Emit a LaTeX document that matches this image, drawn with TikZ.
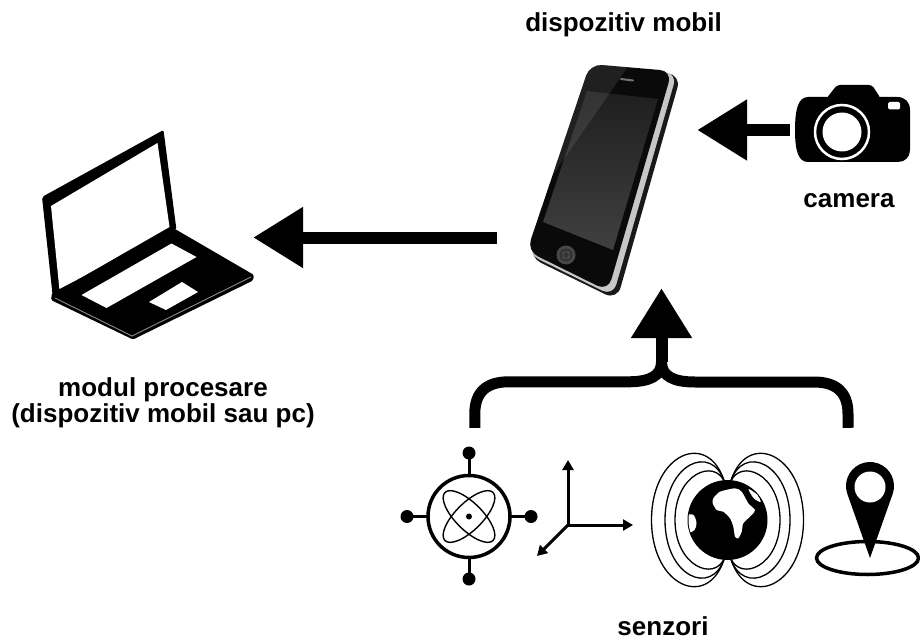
\documentclass[tikz,border=0pt]{standalone}
\usepackage{fontspec}
\newfontfamily\lblfont{Liberation Sans}
\usetikzlibrary{arrows.meta,calc}
\tikzset{
  axtip/.tip={Triangle[length=10pt,width=11pt]},
  bigtip/.tip={Triangle[length=50pt,width=58pt]},
}

\begin{document}
\begin{tikzpicture}[x=1pt,y=-1pt,
  lbl/.style={font=\lblfont\bfseries\fontsize{26}{26}\selectfont, text=black, inner sep=0pt, align=center},
  holder/.style={draw=none, inner sep=0pt},
  bigarrow/.style={line width=12pt, -bigtip},
  brace/.style={line width=11pt, line join=round},
  axis/.style={line width=3pt},
  field/.style={line width=1.3pt},
]
\useasboundingbox (0,0) rectangle (920,639);

% invisible holders for the four pictures
\node[holder, minimum width=200pt, minimum height=248pt] (phone)   at (597,164)   {};
\node[holder, minimum width=213pt, minimum height=215pt] (laptop)  at (146.5,237.5) {};
\node[holder, minimum width=120pt, minimum height=80pt]  (camera)  at (850,130)   {};
\node[holder, minimum width=373pt, minimum height=162pt] (sensors) at (661.5,509) {};
\coordinate (join) at (661.5,362);

% ---------- laptop ----------
\fill[rounded corners=2pt] (42,197) -- (163.5,130) -- (176.5,230) -- (53,299) -- cycle;
\fill[white] (51,206) -- (157.5,143) -- (169.5,227) -- (59.5,290) -- cycle;
\fill[rounded corners=1.5pt] (52,293) -- (175,229) -- (254,275) -- (253,280.5) -- (133,339.5) -- (51,300) -- cycle;
\draw[black!45, line width=0.9pt] (55,298) -- (132,336) -- (251,277);
\fill[white] (81.5,295) -- (171.5,243.5) -- (196.5,257) -- (106.5,308) -- cycle;
\fill[white] (149,302) -- (182,282) -- (198,292) -- (166,310) -- cycle;

% ---------- phone ----------
\fill[black!90, rounded corners=13pt] (593,65) -- (681,75) -- (617,300) -- (529,257) -- cycle;
\fill[black!22, rounded corners=12pt] (591,65) -- (677,73) -- (613,296) -- (528,254) -- cycle;
\fill[black!96, rounded corners=12pt] (590,64) -- (672,71) -- (608,291) -- (527,251) -- cycle;
\shade[top color=black!88, bottom color=black!75] (587,91) -- (658,99) -- (613,250) -- (543,222) -- cycle;
\begin{scope}
  \clip[rounded corners=12pt] (590,64) -- (672,71) -- (608,291) -- (527,251) -- cycle;
  \fill[white, opacity=0.09] (580,55) -- (636,55) -- (553,175) -- (515,175) -- cycle;
\end{scope}
\draw[black!55, line width=2pt, line cap=round] (621,79) -- (633,80.5);
\fill[black!72] (566,255) circle (9.5);
\fill[black!80] (566,255) circle (6.5);
\draw[black!62, line width=0.8pt, rounded corners=1pt] (563,252) rectangle (569,258);

% ---------- camera ----------
\fill (808,97) -- (897,97) .. controls (905,97) and (910,102) .. (910,110) -- (910,150)
  .. controls (910,157) and (905,162) .. (898,162) -- (808,162)
  .. controls (798,162) and (795,150) .. (795,130) .. controls (795,110) and (798,97) .. (808,97) -- cycle;
\fill[rounded corners=3pt] (826,99) -- (837,85) -- (872,85) -- (881,99) -- cycle;
\draw[white, line width=2.5pt] (842,132) circle (27);
\fill[white] (842,132) circle (19.5);
\fill[white, rounded corners=1.5pt] (888,102) rectangle (900,109.5);

% ---------- sensors: gyroscope ----------
\draw[line width=3pt] (469,516.5) -- (469,453) (469,516.5) -- (469,579)
  (469,516.5) -- (407,516.5) (469,516.5) -- (531,516.5);
\filldraw[fill=white, line width=3.5pt] (469,516.5) circle (41);
\foreach \p in {(469,453),(469,579),(407,516.5),(531,516.5)} \fill \p circle (6.5);
\draw[line width=1.4pt, rotate around={45:(469,516.5)}] (469,516.5) ellipse (34 and 13.5);
\draw[line width=1.4pt, rotate around={-45:(469,516.5)}] (469,516.5) ellipse (34 and 13.5);
\fill (469,516.5) circle (3);

% ---------- sensors: accelerometer axes ----------
\draw[axis, axtip-axtip] (568,460) -- (568,525) -- (633,525);
\draw[axis, -axtip] (568,525) -- (537,556);

% ---------- sensors: magnetometer ----------
\begin{scope}[shift={(727.5,520)}]
  \foreach \w/\t in {76/67, 62.5/57, 52.5/46} {
    \draw[field] (-3,-38) .. controls (-0.25*\w,-1.35*\t) and (-\w,-\t) .. (-\w,0)
      .. controls (-\w,\t) and (-0.25*\w,1.35*\t) .. (-3,38);
    \draw[field] (3,-38) .. controls (0.25*\w,-1.35*\t) and (\w,-\t) .. (\w,0)
      .. controls (\w,\t) and (0.25*\w,1.35*\t) .. (3,38);
  }
  \fill (0,0) circle (40);
  \begin{scope}
    \clip (0,0) circle (39);
    \fill[white] plot[smooth cycle, tension=0.4] coordinates {
      (-14.2,-21.7) (-7.5,-28.3) (7.5,-31.7) (14.2,-28.3) (20.8,-16.7) (27.5,-10)
      (24.2,-5) (15.8,3.3) (14.2,11.7) (10.8,18.3) (7.5,16.7) (5.8,6.7) (2.5,-1.7)
      (-4.2,-8.3) (-10.8,-10) (-14.8,-16.7)};
    \fill[white] plot[smooth cycle, tension=0.5] coordinates {
      (-41,-4) (-34,-5) (-31,3) (-33,10) (-40,12)};
    \fill[white] plot[smooth cycle, tension=0.5] coordinates {
      (21,-31) (30,-25) (33,-18) (26,-22)};
  \end{scope}
\end{scope}

% ---------- sensors: location ----------
\draw[line width=3.5pt] (867.5,558) ellipse (51 and 16.5);
\fill (870,558) -- ($(870,486)+(19.47:24)$) arc[start angle=19.47, end angle=-199.47, radius=24] -- cycle;
\fill[white] (870,487) circle (15.5);

% ---------- labels ----------
\node[lbl, anchor=base] (lbl-phone)   at (623.5,32) {dispozitiv mobil};
\node[lbl, anchor=base] (lbl-camera)  at (849,207)  {camera};
\node[lbl, anchor=base] (lbl-laptop)  at (163,422)  {modul procesare\\(dispozitiv mobil sau pc)};
\node[lbl, anchor=base] (lbl-sensors) at (663,635)  {senzori};

% ---------- connectors ----------
\draw[bigarrow] (camera.west) -- (camera.west -| phone.east);
\draw[bigarrow] (phone.west |- laptop.east) -- (laptop.east);
\draw[brace] (sensors.north west) -- ++(0,-14)
  .. controls +(0,-22) and +(-22,0) .. ++(34,-32) -- ++(119,0)
  .. controls +(22,0) and +(0,14) .. (join)
  .. controls +(0,14) and +(-22,0) .. ++(33.5,20) -- ++(119,0)
  .. controls +(22,0) and +(0,-22) .. ++(34,32) -- (sensors.north east);
\draw[bigarrow] (join) -- (join |- phone.south);
\end{tikzpicture}
\end{document}
